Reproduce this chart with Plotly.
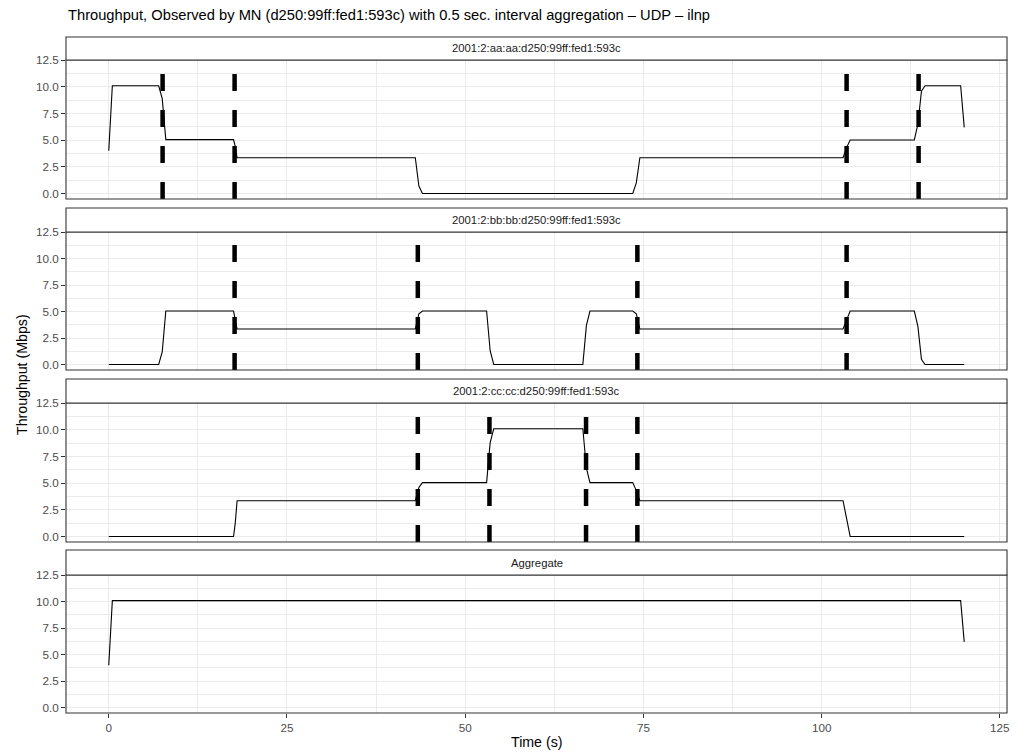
import plotly.graph_objects as go

# ---------------- data ----------------
panel_names = [
    "2001:2:aa:aa:d250:99ff:fed1:593c",
    "2001:2:bb:bb:d250:99ff:fed1:593c",
    "2001:2:cc:cc:d250:99ff:fed1:593c",
    "Aggregate",
]

aa_t = [0, 0.5, 7.0, 7.5, 8.0, 17.5, 17.75, 18.0, 43.0, 43.5, 44.0, 73.5, 74.0, 74.5,
        103.0, 103.5, 104.0, 113.0, 113.5, 114.0, 114.5, 119.5, 120.0]
aa_v = [4.0, 10.1, 10.1, 8.9, 5.05, 5.05, 4.4, 3.35, 3.35, 0.7, 0.0, 0.0, 1.0, 3.35,
        3.35, 4.3, 5.02, 5.02, 6.5, 9.6, 10.1, 10.1, 6.2]

bb_t = [0, 7.0, 7.5, 8.0, 17.5, 18.0, 43.0, 43.5, 44.0, 53.0, 53.5, 54.0, 66.5, 67.0,
        67.5, 73.5, 74.0, 74.5, 103.0, 103.5, 104.0, 113.0, 113.5, 114.0, 114.5, 120.0]
bb_v = [0, 0, 1.2, 5.05, 5.05, 3.35, 3.35, 4.8, 5.05, 5.05, 1.3, 0, 0, 3.7,
        5.05, 5.05, 4.8, 3.35, 3.35, 4.3, 5.05, 5.05, 3.6, 0.5, 0, 0]

cc_t = [0, 17.5, 17.75, 18.0, 43.0, 43.5, 44.0, 53.0, 53.5, 54.0, 66.5, 67.0, 67.5,
        73.5, 74.0, 74.5, 103.0, 103.5, 104.0, 120.0]
cc_v = [0, 0, 1.3, 3.35, 3.35, 4.6, 5.05, 5.05, 8.8, 10.1, 10.1, 6.4, 5.05,
        5.05, 4.3, 3.35, 3.35, 1.5, 0, 0]

agg_t = [0, 0.5, 119.5, 120.0]
agg_v = [4.0, 10.1, 10.1, 6.2]

aa_handover = [7.55, 17.65, 103.5, 113.6]
bb_handover = [17.65, 43.35, 74.15, 103.5]
cc_handover = [43.35, 53.4, 66.95, 74.15]
agg_handover = []

x_ticks = [0, 25, 50, 75, 100, 125]
x_labels = ["0", "25", "50", "75", "100", "125"]
x_minor = [12.5, 37.5, 62.5, 87.5, 112.5]
y_ticks = [0, 2.5, 5.0, 7.5, 10.0, 12.5]
y_labels = ["0.0", "2.5", "5.0", "7.5", "10.0", "12.5"]
y_minor = [1.25, 3.75, 6.25, 8.75, 11.25]

title_text = "Throughput, Observed by MN (d250:99ff:fed1:593c) with 0.5 sec. interval aggregation \u2013 UDP \u2013 ilnp"
x_title = "Time (s)"
y_title = "Throughput (Mbps)"

# ---------------- layout geometry ----------------
W, H = 1023, 753
L, R, T, B = 66, 16, 37, 40
PH = H - T - B
strips_px = [(37, 60), (208, 232), (379, 403), (550, 575)]
panels_px = [(60, 199), (232, 370), (403, 542), (575, 713)]


def fy(p):
    return (H - B - p) / PH


def fx(p):
    return (p - L) / (W - L - R)


FONT = "Liberation Sans, Arial, Helvetica, sans-serif"
GRID = "#EBEBEB"
DARK = "#333333"

series = [(aa_t, aa_v), (bb_t, bb_v), (cc_t, cc_v), (agg_t, agg_v)]
handovers = [aa_handover, bb_handover, cc_handover, agg_handover]

fig = go.Figure()
shapes = []
annotations = []
layout = {}

for i, (t, v) in enumerate(series):
    sfx = "" if i == 0 else str(i + 1)
    last = i == len(series) - 1
    fig.add_trace(go.Scatter(
        x=t, y=v, mode="lines", line=dict(color="black", width=1.1),
        xaxis="x" + sfx, yaxis="y" + sfx, showlegend=False, hoverinfo="skip"))

    top, bot = panels_px[i]
    layout["xaxis" + sfx] = dict(
        domain=[0, 1], range=[-6, 126], anchor="y" + sfx,
        tickmode="array", tickvals=x_ticks, ticktext=x_labels,
        showticklabels=last, ticks="outside" if last else "",
        ticklen=4, tickwidth=1.1, tickcolor=DARK,
        tickfont=dict(family=FONT, size=11.7, color="#4D4D4D"),
        showgrid=True, gridcolor=GRID, gridwidth=1.1,
        minor=dict(tickmode="array", tickvals=x_minor, showgrid=True,
                   gridcolor=GRID, gridwidth=0.55, ticks=""),
        zeroline=False, showline=False, fixedrange=True,
    )
    if i > 0:
        layout["xaxis" + sfx]["matches"] = "x"
    layout["yaxis" + sfx] = dict(
        domain=[fy(bot), fy(top)], range=[-0.52, 12.52], anchor="x" + sfx,
        tickmode="array", tickvals=y_ticks, ticktext=y_labels,
        ticks="outside", ticklen=4, tickwidth=1.1, tickcolor=DARK,
        tickfont=dict(family=FONT, size=11.7, color="#4D4D4D"),
        showgrid=True, gridcolor=GRID, gridwidth=1.1,
        minor=dict(tickmode="array", tickvals=y_minor, showgrid=True,
                   gridcolor=GRID, gridwidth=0.55, ticks=""),
        zeroline=False, showline=False, fixedrange=True,
    )

    # handover vertical dashed lines
    for h in handovers[i]:
        shapes.append(dict(type="line", xref="x" + sfx, yref="y" + sfx + " domain",
                           x0=h, x1=h, y0=0, y1=1, layer="above",
                           line=dict(color="black", width=4.5, dash="17px,19px")))
    # panel border
    shapes.append(dict(type="rect", xref="x" + sfx + " domain", yref="y" + sfx + " domain",
                       x0=0, x1=1, y0=0, y1=1, layer="above",
                       line=dict(color=DARK, width=1.1), fillcolor="rgba(0,0,0,0)"))
    # strip
    s_top, s_bot = strips_px[i]
    shapes.append(dict(type="rect", xref="paper", yref="paper",
                       x0=0, x1=1, y0=fy(s_bot), y1=fy(s_top), layer="above",
                       line=dict(color=DARK, width=1.1), fillcolor="white"))
    annotations.append(dict(text=panel_names[i], xref="paper", yref="paper",
                            x=0.5, y=fy((s_top + s_bot) / 2), xanchor="center",
                            yanchor="middle", showarrow=False,
                            font=dict(family=FONT, size=11.3, color="#1A1A1A")))

annotations.append(dict(text=title_text, xref="paper", yref="paper",
                        x=0, y=fy(15), xanchor="left", yanchor="middle",
                        showarrow=False, font=dict(family=FONT, size=14.7, color="black")))
annotations.append(dict(text=x_title, xref="paper", yref="paper",
                        x=0.5, y=fy(742), xanchor="center", yanchor="middle",
                        showarrow=False, font=dict(family=FONT, size=14.2, color="black")))
annotations.append(dict(text=y_title, xref="paper", yref="paper", textangle=-90,
                        x=fx(22), y=fy(375), xanchor="center", yanchor="middle",
                        showarrow=False, font=dict(family=FONT, size=14.2, color="black")))

fig.update_layout(
    width=W, height=H, autosize=False,
    margin=dict(l=L, r=R, t=T, b=B, pad=0),
    paper_bgcolor="white", plot_bgcolor="white",
    shapes=shapes, annotations=annotations, showlegend=False,
    **layout,
)

fig.write_html("out.html", config={"displayModeBar": False})
